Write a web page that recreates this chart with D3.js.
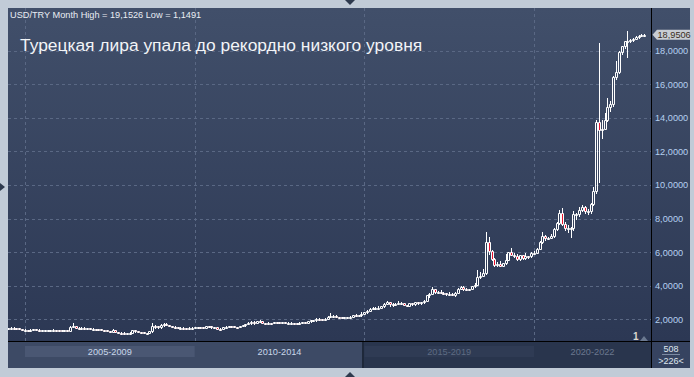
<!DOCTYPE html>
<html>
<head>
<meta charset="utf-8">
<script src="https://d3js.org/d3.v7.min.js"></script>
<style>
body { margin: 0; background: #c1cbd7; }
svg { display: block; font-family: "Liberation Sans", Arial, sans-serif; }
</style>
</head>
<body>
<script>

var width = 694;
var height = 377;

//Plot box, right axis strip and bottom period strip
var plotL = 8, plotR = 651, plotT = 8, plotB = 341;
var frameR = 690, frameB = 368;

//////////////////////////////////////////////
////// DATA: USD/TRY monthly bars ////////////
//////////////////////////////////////////////

//first bar is July 2004, last bar April 2023 (226 bars)
var firstMonth = new Date(2004, 6, 1);
var lastMonth = new Date(2023, 3, 1);
var firstOpen = 1.45; //every later bar opens at the previous close

var closes = [
  1.48, 1.50, 1.49, 1.45, 1.42, 1.35,                                //2004
  1.36, 1.30, 1.37, 1.39, 1.38, 1.34, 1.34, 1.34, 1.35, 1.36, 1.37, 1.35, //2005
  1.33, 1.32, 1.35, 1.32, 1.54, 1.59, 1.50, 1.45, 1.50, 1.44, 1.45, 1.41, //2006
  1.42, 1.40, 1.39, 1.35, 1.33, 1.30, 1.26, 1.33, 1.21, 1.20, 1.19, 1.17, //2007
  1.17, 1.20, 1.33, 1.29, 1.24, 1.22, 1.17, 1.18, 1.27, 1.60, 1.57, 1.52, //2008
  1.64, 1.71, 1.66, 1.59, 1.56, 1.54, 1.48, 1.49, 1.48, 1.46, 1.50, 1.50, //2009
  1.52, 1.54, 1.52, 1.48, 1.58, 1.57, 1.51, 1.52, 1.44, 1.42, 1.52, 1.54, //2010
  1.60, 1.59, 1.55, 1.52, 1.58, 1.63, 1.70, 1.78, 1.85, 1.80, 1.88, 1.89, //2011
  1.77, 1.75, 1.78, 1.77, 1.85, 1.81, 1.80, 1.82, 1.79, 1.79, 1.79, 1.78, //2012
  1.76, 1.80, 1.81, 1.79, 1.87, 1.93, 1.94, 2.03, 2.02, 1.99, 2.04, 2.15, //2013
  2.22, 2.22, 2.13, 2.11, 2.09, 2.12, 2.15, 2.16, 2.28, 2.22, 2.24, 2.33, //2014
  2.45, 2.49, 2.61, 2.66, 2.67, 2.69, 2.76, 2.92, 3.02, 2.92, 2.88, 2.92, //2015
  2.96, 2.97, 2.83, 2.80, 2.95, 2.88, 3.01, 2.97, 3.00, 3.10, 3.43, 3.52, //2016
  3.77, 3.64, 3.64, 3.56, 3.54, 3.51, 3.53, 3.45, 3.57, 3.79, 3.93, 3.79, //2017
  3.73, 3.80, 3.95, 4.06, 4.52, 4.60, 4.73, 6.58, 6.05, 5.60, 5.25, 5.29, //2018
  5.20, 5.32, 5.55, 5.98, 5.85, 5.79, 5.59, 5.80, 5.64, 5.79, 5.74, 5.95, //2019
  5.97, 6.18, 6.62, 6.98, 6.81, 6.86, 6.96, 7.35, 7.76, 8.34, 7.67, 7.43, //2020
  7.44, 7.46, 8.25, 8.27, 8.52, 8.71, 8.45, 8.47, 8.88, 9.61, 13.75, 13.30, //2021
  13.32, 13.88, 14.66, 14.85, 16.44, 16.74, 17.93, 18.27, 18.57, 18.60, 18.62, 18.72, //2022
  18.80, 18.88, 18.93, 18.9506                                        //2023
];

var highs = [
  1.50, 1.52, 1.52, 1.50, 1.46, 1.42,
  1.40, 1.37, 1.39, 1.42, 1.42, 1.39, 1.37, 1.36, 1.36, 1.38, 1.40, 1.38,
  1.35, 1.34, 1.38, 1.35, 1.60, 1.75, 1.60, 1.52, 1.52, 1.52, 1.48, 1.46,
  1.46, 1.44, 1.43, 1.40, 1.37, 1.35, 1.31, 1.40, 1.34, 1.23, 1.23, 1.21,
  1.20, 1.23, 1.38, 1.34, 1.30, 1.26, 1.23, 1.20, 1.30, 1.80, 1.65, 1.60,
  1.70, 1.78, 1.80, 1.68, 1.62, 1.60, 1.55, 1.52, 1.51, 1.50, 1.54, 1.54,
  1.53, 1.56, 1.56, 1.53, 1.61, 1.62, 1.58, 1.53, 1.53, 1.45, 1.55, 1.58,
  1.62, 1.62, 1.62, 1.56, 1.62, 1.65, 1.72, 1.81, 1.88, 1.89, 1.90, 1.94,
  1.89, 1.78, 1.81, 1.80, 1.86, 1.86, 1.83, 1.83, 1.82, 1.81, 1.81, 1.80,
  1.79, 1.81, 1.83, 1.82, 1.89, 1.97, 1.97, 2.05, 2.07, 2.02, 2.06, 2.17,
  2.39, 2.26, 2.28, 2.16, 2.14, 2.14, 2.16, 2.19, 2.28, 2.30, 2.27, 2.40,
  2.45, 2.52, 2.66, 2.74, 2.72, 2.79, 2.79, 2.96, 3.07, 3.02, 2.94, 2.98,
  3.07, 3.01, 2.99, 2.87, 2.98, 2.97, 3.05, 3.02, 3.03, 3.12, 3.47, 3.59,
  3.94, 3.74, 3.69, 3.73, 3.63, 3.57, 3.60, 3.57, 3.61, 3.86, 3.99, 3.95,
  3.86, 3.82, 3.98, 4.13, 4.92, 4.84, 4.97, 7.20, 6.90, 6.10, 5.62, 5.42,
  5.47, 5.36, 5.90, 6.00, 6.24, 5.93, 5.88, 5.83, 5.83, 5.92, 5.79, 6.00,
  6.04, 6.22, 6.65, 7.22, 7.02, 6.88, 7.05, 7.42, 7.80, 8.48, 8.60, 7.80,
  7.60, 7.50, 8.47, 8.35, 8.67, 8.80, 8.75, 8.58, 8.90, 9.85, 13.90, 18.43,
  13.90, 14.30, 15.20, 14.98, 16.50, 17.40, 18.00, 18.30, 18.60, 19.1526, 18.68, 18.76,
  18.85, 18.92, 19.00, 19.02
];

var lows = [
  1.44, 1.47, 1.47, 1.44, 1.40, 1.33,
  1.33, 1.29, 1.29, 1.36, 1.35, 1.33, 1.32, 1.32, 1.33, 1.34, 1.35, 1.34,
  1.31, 1.30, 1.31, 1.31, 1.31, 1.52, 1.48, 1.43, 1.44, 1.42, 1.42, 1.40,
  1.41, 1.39, 1.37, 1.34, 1.32, 1.29, 1.24, 1.25, 1.21, 1.18, 1.16, 1.15,
  1.15, 1.16, 1.19, 1.26, 1.22, 1.20, 1.1491, 1.16, 1.17, 1.24, 1.48, 1.50,
  1.50, 1.62, 1.64, 1.57, 1.53, 1.51, 1.47, 1.46, 1.46, 1.43, 1.45, 1.47,
  1.45, 1.50, 1.50, 1.46, 1.47, 1.55, 1.50, 1.48, 1.43, 1.39, 1.40, 1.50,
  1.53, 1.57, 1.54, 1.49, 1.51, 1.57, 1.61, 1.69, 1.73, 1.72, 1.76, 1.84,
  1.76, 1.73, 1.74, 1.75, 1.76, 1.78, 1.78, 1.78, 1.78, 1.77, 1.77, 1.76,
  1.75, 1.76, 1.79, 1.78, 1.78, 1.86, 1.90, 1.92, 1.97, 1.96, 1.97, 2.01,
  2.13, 2.17, 2.12, 2.08, 2.06, 2.08, 2.10, 2.13, 2.16, 2.21, 2.19, 2.21,
  2.29, 2.39, 2.48, 2.58, 2.58, 2.63, 2.67, 2.74, 2.91, 2.81, 2.79, 2.84,
  2.90, 2.90, 2.82, 2.78, 2.79, 2.86, 2.85, 2.91, 2.93, 2.98, 3.08, 3.35,
  3.50, 3.58, 3.57, 3.55, 3.49, 3.47, 3.50, 3.42, 3.39, 3.57, 3.77, 3.76,
  3.72, 3.72, 3.77, 3.94, 4.04, 4.47, 4.57, 4.72, 5.90, 5.52, 5.17, 5.17,
  5.17, 5.18, 5.28, 5.52, 5.80, 5.70, 5.53, 5.52, 5.60, 5.61, 5.62, 5.68,
  5.91, 5.97, 6.16, 6.55, 6.72, 6.77, 6.84, 6.90, 7.33, 7.66, 7.61, 7.32,
  7.18, 6.90, 7.30, 7.98, 8.16, 8.45, 8.32, 8.26, 8.32, 8.83, 9.55, 10.20,
  12.80, 13.40, 13.80, 14.40, 14.70, 16.30, 16.70, 17.80, 18.15, 17.60, 18.50, 18.55,
  18.69, 18.78, 18.85, 18.90
];

//Axis ticks and the period strip under the chart
var yTicks = [2, 4, 6, 8, 10, 12, 14, 16, 18];
var gridYears = [2005, 2010, 2015, 2020];
var periodLabels = ["2005-2009", "2010-2014", "2015-2019", "2020-2022"];
var barCount = "508";
var visibleCount = ">226<";

var titleText = "Турецкая лира упала до рекордно низкого уровня";
var symbolText = "USD/TRY Month";


//Build the bar table
var months = d3.timeMonth.range(firstMonth, d3.timeMonth.offset(lastMonth, 1));
var bars = months.map(function(m, i) {
  return {
    date: m,
    open: i == 0 ? firstOpen : closes[i - 1],
    high: highs[i],
    low: lows[i],
    close: closes[i]
  };
});

//Comma decimals like the terminal
var ru = d3.formatLocale({decimal: ",", thousands: " ", grouping: [3], currency: ["", ""]});
var fmt4 = ru.format(".4f");


///////////////////////////////////////
/////// SCALES ////////////////////////
///////////////////////////////////////

var x = d3.scaleTime()
          .domain([new Date(2005, 0, 1), new Date(2020, 0, 1)])
          .range([25, 534]);

var y = d3.scaleLinear()
          .domain([2, 18])
          .range([319.2, 50.7]);


var frame = d3.select("body").append("svg")
            .attr("width", width)
            .attr("height", height);

var defs = frame.append("defs");

var bg = defs.append("linearGradient")
             .attr("id", "bgGrad")
             .attr("x1", 0).attr("y1", 0).attr("x2", 0).attr("y2", 1);
bg.append("stop").attr("offset", "0%").attr("stop-color", "#414f6a");
bg.append("stop").attr("offset", "100%").attr("stop-color", "#2c3854");

defs.append("clipPath").attr("id", "plotClip")
    .append("rect")
    .attr("x", plotL).attr("y", plotT)
    .attr("width", plotR - plotL).attr("height", plotB - plotT);

//outer light page
frame.append("rect")
     .attr("width", width).attr("height", height)
     .attr("fill", "#c1cbd7");

//little scroll arrows on the page edge
frame.append("path").attr("d", "M345,0 L355,0 L350,5 Z").attr("fill", "#2e3a4e");
frame.append("path").attr("d", "M345,377 L355,377 L350,372 Z").attr("fill", "#2e3a4e");
frame.append("path").attr("d", "M0,183 L0,191 L5,187 Z").attr("fill", "#2e3a4e");

//chart + axis background
frame.append("rect")
     .attr("x", plotL).attr("y", plotT)
     .attr("width", frameR - plotL).attr("height", plotB - plotT)
     .attr("fill", "url(#bgGrad)");


///////////////////////////////////////
/////// GRID //////////////////////////
///////////////////////////////////////

var hGrid = frame.append("g")
                 .attr("transform", "translate(" + plotL + ",0)")
                 .call(d3.axisRight(y).tickValues(yTicks).tickSize(plotR - plotL).tickFormat(""));
hGrid.select(".domain").remove();
hGrid.selectAll("line")
     .attr("stroke", "#5a6884")
     .attr("stroke-dasharray", "3,3")
     .attr("shape-rendering", "crispEdges");

var vGrid = frame.append("g")
                 .attr("transform", "translate(0," + plotT + ")")
                 .call(d3.axisBottom(x)
                         .tickValues(gridYears.map(function(yr) { return new Date(yr, 0, 1); }))
                         .tickSize(plotB - plotT).tickFormat(""));
vGrid.select(".domain").remove();
vGrid.selectAll("line")
     .attr("stroke", "#5a6884")
     .attr("stroke-dasharray", "3,3")
     .attr("shape-rendering", "crispEdges");


///////////////////////////////////////
/////// CANDLES ///////////////////////
///////////////////////////////////////

var candles = frame.append("g").attr("clip-path", "url(#plotClip)");

bars.forEach(function(d) {
  var cx = Math.round(x(d.date));
  var yo = Math.round(y(d.open)), yc = Math.round(y(d.close));
  var yh = Math.round(y(d.high)), yl = Math.round(y(d.low));
  var top = Math.min(yo, yc);
  var bot = Math.max(Math.max(yo, yc), top + 1); //body at least two rows tall

  //wicks only outside the body
  if (yh < top) {
    candles.append("line")
           .attr("x1", cx + 0.5).attr("x2", cx + 0.5)
           .attr("y1", yh).attr("y2", top)
           .attr("stroke", "#ffffff");
  }
  if (yl > bot) {
    candles.append("line")
           .attr("x1", cx + 0.5).attr("x2", cx + 0.5)
           .attr("y1", bot + 1).attr("y2", yl + 1)
           .attr("stroke", "#ffffff");
  }

  //body: hollow for up months, red for down months
  candles.append("path")
         .attr("d", "M" + (cx - 0.5) + "," + (top + 0.5) +
                    "V" + (bot + 0.5) + "H" + (cx + 1.5) +
                    "V" + (top + 0.5) + "Z")
         .attr("fill", d.close < d.open ? "#e8122e" : "none")
         .attr("stroke", "#ffffff");
});


///////////////////////////////////////
/////// RIGHT AXIS ////////////////////
///////////////////////////////////////

var yAxis = frame.append("g")
                 .attr("transform", "translate(" + plotR + ",0)")
                 .call(d3.axisRight(y).tickValues(yTicks).tickSize(0).tickPadding(4).tickFormat(fmt4));
yAxis.select(".domain").remove();
yAxis.selectAll("text")
     .attr("fill", "#b5cff0")
     .style("font-size", "9.2px")
     .style("font-family", "'Liberation Sans', Arial, sans-serif");

//last price tag
var last = bars[bars.length - 1];
var yLast = y(last.close);
frame.append("path")
     .attr("d", "M652.5," + yLast + " L657," + (yLast - 5) + " H690 V" + (yLast + 5) + " H657 Z")
     .attr("fill", "#c9cdd3");
frame.append("text")
     .attr("x", 657.5).attr("y", yLast + 3.3)
     .attr("fill", "#3a2e22")
     .style("font-size", "9.2px")
     .text(fmt4(last.close));


///////////////////////////////////////
/////// BOTTOM PERIOD STRIP ///////////
///////////////////////////////////////

var splitX = 363;
frame.append("rect")
     .attr("x", plotL).attr("y", plotB).attr("width", splitX - plotL).attr("height", frameB - plotB)
     .attr("fill", "#3d4a65");
frame.append("rect")
     .attr("x", splitX).attr("y", plotB).attr("width", plotR - splitX).attr("height", frameB - plotB)
     .attr("fill", "#29354d");
frame.append("rect")
     .attr("x", splitX - 1).attr("y", plotB).attr("width", 2).attr("height", frameB - plotB)
     .attr("fill", "#1e283a");
frame.append("rect")
     .attr("x", plotR).attr("y", plotB).attr("width", frameR - plotR).attr("height", frameB - plotB)
     .attr("fill", "#364360");

var bounds = gridYears.map(function(yr) { return x(new Date(yr, 0, 1)); }).concat([plotR]);

//highlight boxes behind the first and third period
frame.append("rect")
     .attr("x", bounds[0]).attr("y", 346).attr("width", bounds[1] - bounds[0]).attr("height", 11)
     .attr("fill", "#4a5773");
frame.append("rect")
     .attr("x", bounds[2]).attr("y", 346).attr("width", bounds[3] - bounds[2]).attr("height", 11)
     .attr("fill", "#2f3b54");

var periodColors = ["#c9d7ea", "#c9d7ea", "#5e6b83", "#6b788f"];
periodLabels.forEach(function(lbl, i) {
  frame.append("text")
       .attr("x", (bounds[i] + bounds[i + 1]) / 2)
       .attr("y", 354.5)
       .attr("text-anchor", "middle")
       .attr("fill", periodColors[i])
       .style("font-size", "9.2px")
       .text(lbl);
});

frame.append("text")
     .attr("x", 671).attr("y", 352)
     .attr("text-anchor", "middle").attr("fill", "#dfe5ee")
     .style("font-size", "9px").text(barCount);
frame.append("line")
     .attr("x1", 662).attr("x2", 680).attr("y1", 354.5).attr("y2", 354.5)
     .attr("stroke", "#7c8aa2");
frame.append("text")
     .attr("x", 671).attr("y", 364)
     .attr("text-anchor", "middle").attr("fill", "#dfe5ee")
     .style("font-size", "9px").text(visibleCount);


///////////////////////////////////////
/////// SEPARATORS + LABELS ///////////
///////////////////////////////////////

frame.append("line")
     .attr("x1", plotR + 0.5).attr("x2", plotR + 0.5).attr("y1", plotT).attr("y2", frameB)
     .attr("stroke", "#000000");
frame.append("line")
     .attr("x1", plotL).attr("x2", frameR).attr("y1", plotB + 0.5).attr("y2", plotB + 0.5)
     .attr("stroke", "#000000");

//pane number + marker
frame.append("text")
     .attr("x", 633).attr("y", 340)
     .attr("fill", "#dcd8d0")
     .style("font-size", "10px").style("font-weight", "bold")
     .text("1");
frame.append("path").attr("d", "M640,341 L644,336 L648,341 Z").attr("fill", "#6b7990");

//header line
var hi = d3.max(bars, function(d) { return d.high; });
var lo = d3.min(bars, function(d) { return d.low; });
frame.append("text")
     .attr("x", 10).attr("y", 18)
     .attr("fill", "#e9edf3")
     .style("font-size", "9.2px")
     .text(symbolText + " High = " + fmt4(hi) + " Low = " + fmt4(lo));

//title
frame.append("text")
     .attr("x", 20).attr("y", 51)
     .attr("fill", "#f2f4f7")
     .style("font-size", "17.4px")
     .text(titleText);

</script>
</body>
</html>
